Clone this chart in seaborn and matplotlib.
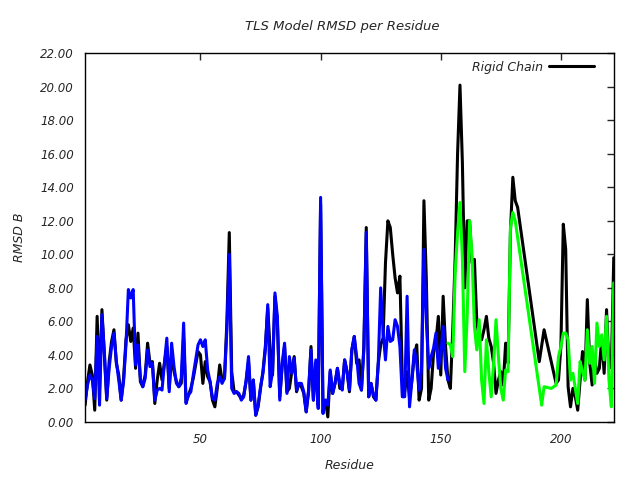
import seaborn as sns
import matplotlib.pyplot as plt
import pandas as pd

sns.set_style("white")
plt.rcParams['font.family'] = ['DejaVu Sans']

# residue numbers (gaps where the chain has no points)
rigid_res = list(range(2, 183)) + [191, 193, 198] + list(range(199, 223))
rigid_rmsd = [
    1.0, 2.4, 3.4, 2.8, 0.7, 6.3, 2.0, 6.7, 4.0, 1.3,      # 2-11
    3.6, 4.8, 5.5, 3.5, 2.8, 1.3, 2.6, 4.9, 5.8, 4.8,      # 12-21
    5.6, 3.2, 5.3, 2.4, 2.1, 2.8, 4.7, 3.5, 3.6, 1.1,      # 22-31
    2.5, 3.5, 2.5, 3.5, 4.5, 2.0, 4.0, 3.0, 2.4, 2.1,      # 32-41
    2.3, 5.0, 1.2, 1.6, 2.0, 2.6, 3.4, 4.2, 4.0, 2.3,      # 42-51
    3.6, 2.7, 2.4, 1.3, 0.9, 2.0, 3.4, 2.5, 2.6, 6.0,      # 52-61
    11.3, 3.0, 1.8, 1.8, 1.6, 1.4, 1.6, 2.4, 3.6, 1.3,     # 62-71
    2.5, 0.4, 0.9, 2.0, 3.0, 4.5, 6.8, 4.3, 2.8, 7.5,      # 72-81
    6.0, 1.5, 3.3, 4.5, 1.8, 2.0, 3.0, 3.9, 1.8, 2.3,      # 82-91
    2.1, 1.7, 0.6, 1.8, 4.5, 1.3, 3.5, 1.0, 13.0, 0.6,     # 92-101
    1.3, 0.3, 3.0, 1.7, 2.3, 3.2, 2.0, 2.0, 3.7, 3.0,      # 102-111
    1.8, 4.3, 5.1, 3.5, 3.7, 1.9, 4.5, 11.6, 1.5, 2.3,     # 112-121
    1.5, 1.3, 3.5, 4.6, 5.0, 9.5, 12.0, 11.6, 10.0, 8.6,   # 122-131
    7.7, 8.7, 2.6, 1.8, 3.0, 1.4, 2.5, 4.0, 4.6, 1.3,      # 132-141
    2.0, 13.2, 8.5, 1.3, 2.0, 4.1, 4.8, 6.3, 2.8, 7.5,     # 142-151
    4.5, 2.5, 2.0, 5.5, 9.8, 16.0, 20.1, 15.5, 8.0, 12.0,  # 152-161
    12.0, 9.5, 9.7, 6.0, 5.0, 4.9, 5.5, 6.3, 5.0, 4.5,     # 162-171
    3.5, 1.7, 2.5, 3.0, 2.2, 4.7, 3.5, 11.3, 14.6, 13.2,   # 172-181
    12.8,                                                  # 182
    3.6, 5.5, 2.3,                                         # 191, 193, 198
    2.5, 4.5, 11.8, 10.3, 2.1, 0.9, 2.0, 1.5, 0.7, 2.5,    # 199-208
    4.2, 2.5, 7.3, 3.5, 2.2, 3.8, 2.9, 3.2, 5.0, 2.9,      # 209-218
    6.7, 3.2, 3.3, 9.8,                                    # 219-222
]

blue_res = list(range(2, 154))
blue_rmsd = [
    1.3, 2.2, 2.8, 2.5, 1.4, 5.1, 1.0, 6.4, 4.2, 1.4,      # 2-11
    3.2, 4.5, 5.3, 3.6, 2.5, 1.3, 2.4, 4.6, 7.9, 7.4,      # 12-21
    7.9, 3.4, 4.6, 2.6, 2.1, 2.6, 4.3, 3.3, 3.5, 1.3,      # 22-31
    1.9, 2.0, 1.9, 3.5, 5.0, 1.8, 4.7, 3.3, 2.3, 2.1,      # 32-41
    2.6, 5.9, 1.1, 1.6, 1.8, 2.8, 3.7, 4.6, 4.9, 4.5,      # 42-51
    4.9, 3.1, 2.4, 1.4, 1.3, 2.3, 2.7, 2.3, 2.6, 5.5,      # 52-61
    10.0, 2.0, 1.7, 1.8, 1.7, 1.3, 1.5, 2.5, 3.9, 1.3,     # 62-71
    2.5, 0.4, 1.0, 2.1, 2.9, 4.3, 7.0, 2.1, 3.0, 7.7,      # 72-81
    6.3, 1.3, 3.5, 4.7, 1.7, 3.9, 2.9, 3.8, 1.9, 2.3,      # 82-91
    2.3, 1.8, 0.6, 1.9, 4.3, 1.3, 3.7, 0.8, 13.4, 0.5,     # 92-101
    1.3, 1.0, 3.1, 1.7, 2.3, 3.2, 2.3, 1.9, 3.7, 3.0,      # 102-111
    1.9, 4.3, 5.1, 3.9, 2.3, 1.9, 4.3, 11.3, 1.5, 2.3,     # 112-121
    1.6, 1.3, 3.5, 8.0, 5.4, 3.7, 5.7, 4.8, 4.9, 6.1,      # 122-131
    5.7, 4.5, 1.5, 1.5, 7.5, 0.9, 2.5, 4.3, 3.5, 1.9,      # 132-141
    3.2, 10.3, 6.0, 3.2, 3.9, 4.4, 5.3, 3.2, 3.9, 5.7,     # 142-151
    3.2, 2.5,                                              # 152-153
]

green_res = list(range(153, 182)) + [192, 193, 196, 198] + list(range(199, 223))
green_rmsd = [
    4.7, 4.6, 3.9, 8.9, 11.3, 13.1, 9.8, 3.0, 6.3, 12.0,   # 153-162
    10.0, 5.7, 4.3, 6.1, 2.5, 1.1, 4.9, 3.0, 1.5, 3.5,     # 163-172
    6.1, 3.9, 2.0, 1.3, 3.1, 3.0, 11.6, 12.5, 12.0,        # 173-181
    1.0, 2.1, 2.0, 2.2,                                    # 192, 193, 196, 198
    3.9, 4.5, 5.3, 5.3, 4.9, 2.5, 2.9, 2.0, 1.1, 3.6,      # 199-208
    3.0, 2.5, 5.5, 3.5, 4.5, 2.3, 5.9, 4.5, 5.2, 3.7,      # 209-218
    6.3, 2.5, 0.9, 8.3,                                    # 219-222
]

rigid = pd.DataFrame({'Residue': rigid_res, 'RMSD': rigid_rmsd})
blue = pd.DataFrame({'Residue': blue_res, 'RMSD': blue_rmsd})
green = pd.DataFrame({'Residue': green_res, 'RMSD': green_rmsd})

fig, ax = plt.subplots(figsize=(6.4, 4.8), dpi=100)
fig.subplots_adjust(left=0.133, right=0.959, top=0.889, bottom=0.121)

lw = 2.2
sns.lineplot(data=rigid, x='Residue', y='RMSD', color='black', lw=lw,
             estimator=None, sort=False, label='Rigid Chain', ax=ax)
sns.lineplot(data=blue, x='Residue', y='RMSD', color='#0000ff', lw=lw,
             estimator=None, sort=False, ax=ax)
sns.lineplot(data=green, x='Residue', y='RMSD', color='#00ff00', lw=lw,
             estimator=None, sort=False, ax=ax)

ax.set_xlim(2, 222)
ax.set_ylim(0, 22)
ax.set_xticks([50, 100, 150, 200])
ax.set_yticks([i * 2 for i in range(12)])
ax.set_yticklabels([f'{i * 2:.2f}' for i in range(12)])
ax.tick_params(direction='in', top=True, right=True, length=5, width=1,
               labelsize=8.5, pad=8)
for lab in ax.get_xticklabels() + ax.get_yticklabels():
    lab.set_fontstyle('italic')
for s in ax.spines.values():
    s.set_linewidth(1.0)
    s.set_color('black')

ax.set_title('TLS Model RMSD per Residue', fontsize=9.5, fontstyle='italic',
             pad=17, x=0.487)
ax.set_xlabel('Residue', fontsize=9, fontstyle='italic', labelpad=9)
ax.set_ylabel('RMSD B', fontsize=9, fontstyle='italic', labelpad=10)

leg = ax.legend(loc='upper right', bbox_to_anchor=(0.977, 1.0), frameon=False,
                markerfirst=False, handlelength=3.6, handletextpad=0.5,
                borderaxespad=0.2, prop={'style': 'italic', 'size': 9})

fig.savefig('out.png', dpi=100, facecolor='white')
